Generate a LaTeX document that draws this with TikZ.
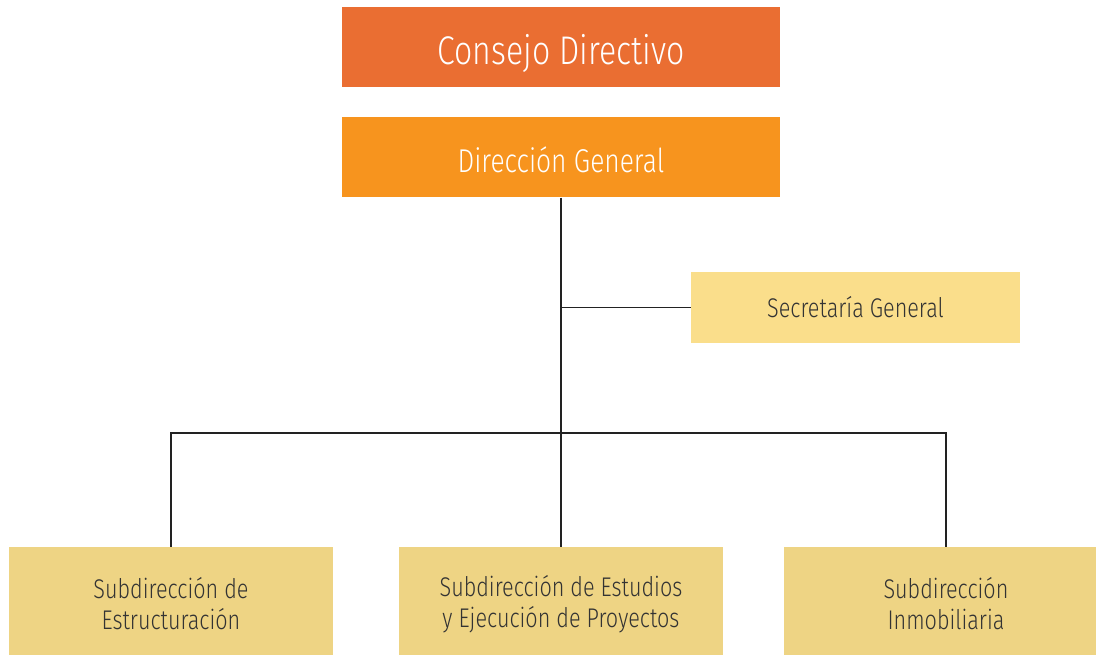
\documentclass[tikz,border=0pt]{standalone}
\usepackage{fontspec}
\setmainfont{Fira Sans Light}[FakeStretch=0.8]
\usetikzlibrary{positioning}
\definecolor{consejo}{RGB}{234,110,50}
\definecolor{direccion}{RGB}{247,148,30}
\definecolor{secret}{RGB}{250,222,139}
\definecolor{subdir}{RGB}{238,212,132}
\definecolor{texto}{RGB}{51,51,51}
\definecolor{linea}{RGB}{34,34,34}

\tikzset{
  box/.style={rectangle, text centered, inner sep=0pt},
  topbox/.style={box, minimum width=438pt, minimum height=80pt, text=white, text depth=0pt},
  subbox/.style={box, fill=subdir, minimum width=324pt, minimum height=114pt,
    text=texto, font=\fontsize{27}{31}\selectfont, align=center},
  link/.style={draw=linea, line width=1.5pt}
}

\begin{document}
\begin{tikzpicture}[x=1pt,y=-1pt]
        \useasboundingbox (0,0) rectangle (1096,655);
        % nodes %
        \node[topbox, fill=consejo, font=\fontsize{40}{40}\selectfont, text height=36pt] (cd) at (561,47) {Consejo Directivo};
        \node[topbox, fill=direccion, font=\fontsize{33}{33}\selectfont, text height=30pt, below=30pt of cd] (dg) {Dirección General};
        \node[box, fill=secret, minimum width=329pt, minimum height=71pt, text=texto,
              font=\fontsize{27}{27}\selectfont] (sg) at (855.5,307.5) {Secretaría General};
        \node[subbox] (se) at (171,604) {Subdirección de\\Estructuración};
        \node[subbox] (sep) at (561,604) {Subdirección de Estudios\\y Ejecución de Proyectos};
        \node[subbox] (si) at (946,604) {Subdirección\\Inmobiliaria};
        \coordinate (bar) at (561,433);
        % edges %
        \draw[link] (dg) -- (sep);
        \draw[link] (sg.west) -- (sg.west -| dg.south);
        \draw[link] (se.north) |- (bar) -| (si.north);
\end{tikzpicture}
\end{document}
